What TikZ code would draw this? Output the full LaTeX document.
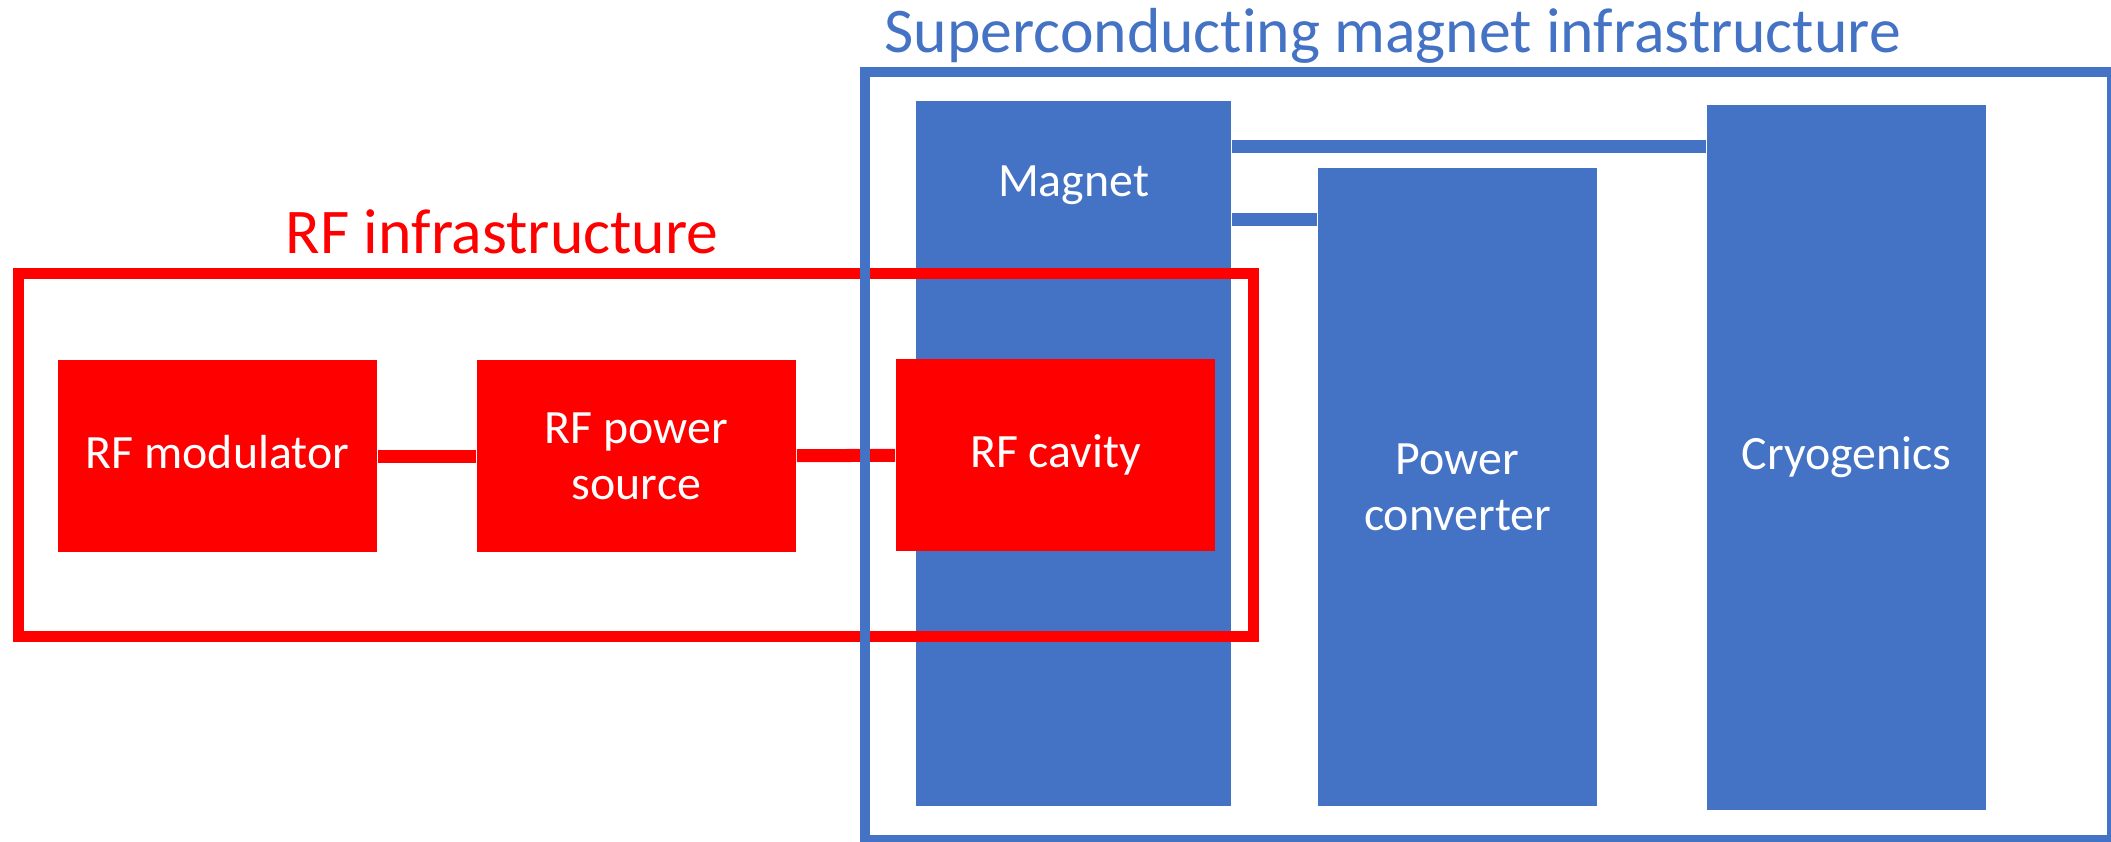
\documentclass[tikz,border=0pt]{standalone}
\usepackage{fontspec}
\setmainfont{Carlito}[Ligatures={NoCommon}]
\usetikzlibrary{positioning, calc}
\definecolor{scblue}{HTML}{4472C4}
\definecolor{rfred}{HTML}{FF0000}

\begin{document}
\begin{tikzpicture}[
			x=0.01cm, y=-0.01cm,
			font=\fontsize{13.6pt}{15.9pt}\selectfont,
			rfbox/.style={fill=rfred, text=white, inner sep=0pt, minimum width=3.19cm, minimum height=1.92cm},
			scbox/.style={fill=scblue, text=white, inner sep=0pt, minimum width=2.79cm},
			oneline/.style={text height=0.69em, text depth=0pt},
			rflink/.style={draw=rfred, line width=0.13cm},
			sclink/.style={draw=scblue, line width=0.13cm},
			frame/.style={inner sep=0pt},
			title/.style={font=\fontsize{18.1pt}{21pt}\selectfont, inner sep=0pt},
		]
			\useasboundingbox (0,0) rectangle (2111,842);
			% superconducting magnet side
			\node[scbox, minimum width=3.15cm, minimum height=7.05cm] (magnet) at (1073.5,453.5) {};
			\node[white, anchor=base, inner sep=0pt] (magnetlabel) at (1073.5,196) {Magnet};
			\node[scbox, align=center, minimum height=6.38cm] (conv) at (1457.5,487) {Power\\converter};
			\node[scbox, oneline, minimum height=7.05cm] (cryo) at (1846.5,457.5) {Cryogenics};
			\coordinate (m1) at ($(magnet.north east)+(0,46.5)$);
			\coordinate (m2) at ($(magnet.north east)+(0,119)$);
			\draw[sclink] (m1) -- (m1 -| cryo.west);
			\draw[sclink] (m2) -- (m2 -| conv.west);
			% RF side
			\node[frame, draw=rfred, line width=0.11cm, minimum width=12.34cm, minimum height=3.62cm] (rfframe) at (636,455) {};
			\node[rfbox, oneline] (mod) at (217.5,456) {RF modulator};
			\node[rfbox, align=center] (src) at (636.5,456) {RF power\\source};
			\node[rfbox, oneline] (cav) at (1055.5,455) {RF cavity};
			\draw[rflink] (mod) -- (src);
			\draw[rflink] (src) -- (cav);
			\node[frame, draw=scblue, line width=0.10cm, minimum width=12.47cm, minimum height=7.68cm] (scframe) at (1488.5,456) {};
			% titles
			\node[title, text=rfred, anchor=base] (rftitle) at (502,253) {RF infrastructure};
			\node[title, text=scblue, anchor=base west] (sctitle) at (884,52) {Superconducting magnet infrastructure};
		\end{tikzpicture}
\end{document}
